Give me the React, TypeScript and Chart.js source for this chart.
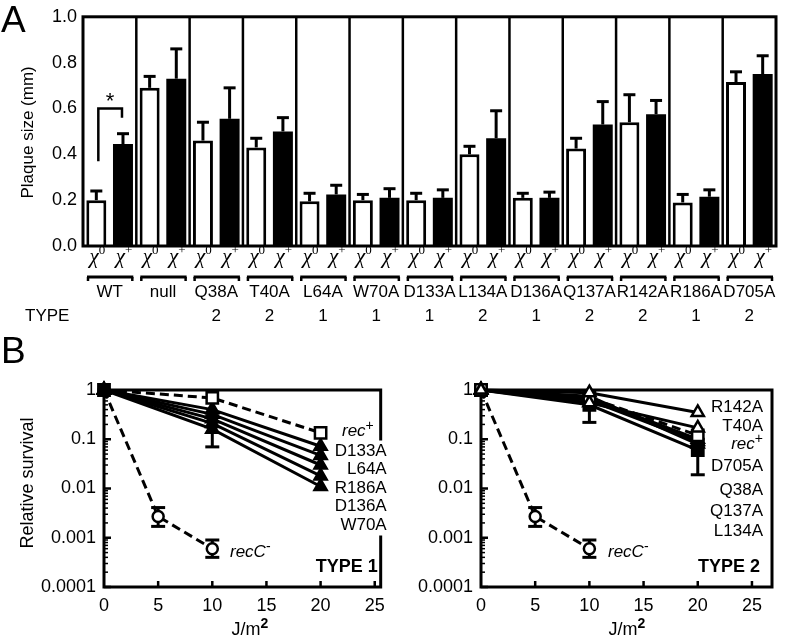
import React, { useEffect, useRef } from 'react';
import { Chart, registerables } from 'chart.js';
Chart.register(...registerables);

const SANS = "'Liberation Sans', Arial, Helvetica, sans-serif";
const SERIF = "'Liberation Serif', 'Times New Roman', serif";
Chart.defaults.font.family = SANS;
Chart.defaults.color = '#000';

// ---------------- Panel A data ----------------
const groups = ['WT', 'null', 'Q38A', 'T40A', 'L64A', 'W70A', 'D133A', 'L134A', 'D136A', 'Q137A', 'R142A', 'R186A', 'D705A'];
const groupTypes = ['', '', '2', '2', '1', '1', '1', '2', '1', '2', '2', '1', '2'];
const barSeries = ['0', '+'];
const chi0 = [0.20, 0.69, 0.46, 0.43, 0.195, 0.20, 0.20, 0.40, 0.21, 0.425, 0.54, 0.19, 0.715];
const chi0Err = [0.04, 0.05, 0.08, 0.04, 0.035, 0.025, 0.03, 0.035, 0.02, 0.045, 0.12, 0.035, 0.045];
const chiPlus = [0.445, 0.73, 0.555, 0.50, 0.225, 0.21, 0.21, 0.47, 0.21, 0.53, 0.575, 0.215, 0.75];
const chiPlusErr = [0.045, 0.13, 0.135, 0.06, 0.04, 0.04, 0.035, 0.12, 0.025, 0.10, 0.06, 0.03, 0.08];
const plaqueTicks = [0, 0.2, 0.4, 0.6, 0.8, 1.0];
const wtBracket = [0.37, 0.60, 0.56]; // left foot, top, right foot

// ---------------- Panel B data ----------------
const doses = [0, 10, 20];
const dosesRecC = [0, 5, 10];
const doseTicks = [0, 5, 10, 15, 20, 25];
const survivalTicks = [1, 0.1, 0.01, 0.001, 0.0001];

const recCMinus = [1, 0.0027, 0.0006];
const recCLow = [null, 0.0017, 0.0004];
const recCHigh = [null, 0.0041, 0.0009];

// Type 1
const recPlus1 = [1, 0.69, 0.135];
const d133a = [1, 0.40, 0.072];
const l64a = [1, 0.32, 0.047];
const r186a = [1, 0.26, 0.030];
const d136a = [1, 0.21, 0.018];
const w70a = [1, 0.16, 0.011];
const w70aLow = [null, 0.07, null];
const w70aHigh = [null, 0.30, null];
const type1Names = ['D133A', 'L64A', 'R186A', 'D136A', 'W70A'];

// Type 2
const r142a = [1, 0.88, 0.35];
const t40a = [1, 0.55, 0.17];
const recPlus2 = [1, 0.70, 0.12];
const q38a = [1, 0.68, 0.10];
const q137a = [1, 0.62, 0.09];
const l134a = [1, 0.75, 0.08];
const d705a = [1, 0.50, 0.06];
const d705aLow = [null, 0.22, 0.019];
const d705aHigh = [null, 0.80, 0.10];
const type2Names = ['R142A', 'T40A', 'rec+', 'D705A', 'Q38A', 'Q137A', 'L134A'];

// ---------------- helpers ----------------
type Part = { t: string; font: string; dy?: number };
function rich(ctx: CanvasRenderingContext2D, parts: Part[], x: number, y: number, align: 'left' | 'center' | 'right', bg = false) {
  ctx.save();
  ctx.textBaseline = 'middle';
  ctx.textAlign = 'left';
  let total = 0;
  const widths = parts.map((p) => {
    ctx.font = p.font;
    const w = ctx.measureText(p.t).width;
    total += w;
    return w;
  });
  let sx = align === 'left' ? x : align === 'center' ? x - total / 2 : x - total;
  if (bg) {
    ctx.fillStyle = '#fff';
    ctx.fillRect(sx - 1, y - 10.5, total + 2, 21);
  }
  ctx.fillStyle = '#000';
  parts.forEach((p, i) => {
    ctx.font = p.font;
    ctx.fillText(p.t, sx, y + (p.dy || 0));
    sx += widths[i];
  });
  ctx.restore();
}

function nameParts(n: string, size = 17): Part[] {
  if (n === 'rec+') return [{ t: 'rec', font: `italic ${size}px ${SANS}` }, { t: '+', font: `${size - 3}px ${SANS}`, dy: -5 }];
  return [{ t: n, font: `${size}px ${SANS}` }];
}

function vLine(ctx: CanvasRenderingContext2D, x: number, y1: number, y2: number) {
  ctx.beginPath();
  ctx.moveTo(x, y1);
  ctx.lineTo(x, y2);
  ctx.stroke();
}
function hLine(ctx: CanvasRenderingContext2D, x1: number, x2: number, y: number) {
  ctx.beginPath();
  ctx.moveTo(x1, y);
  ctx.lineTo(x2, y);
  ctx.stroke();
}

// ---------------- Panel A plugin ----------------
const panelAPlugin = {
  id: 'panelA',
  beforeDatasetsDraw(chart: any) {
    const { ctx, chartArea: ca, scales } = chart;
    const x = scales.x;
    ctx.save();
    ctx.strokeStyle = '#000';
    ctx.lineWidth = 2.5;
    for (let i = 1; i < groups.length; i++) {
      const px = (x.getPixelForValue(i - 1) + x.getPixelForValue(i)) / 2;
      vLine(ctx, px, ca.top, ca.bottom);
    }
    ctx.restore();
  },
  afterDatasetsDraw(chart: any) {
    const { ctx, chartArea: ca, scales } = chart;
    const x = scales.x;
    const y = scales.y;
    ctx.save();
    ctx.strokeStyle = '#000';
    ctx.fillStyle = '#000';
    ctx.lineWidth = 3;
    ctx.strokeRect(ca.left, ca.top, ca.right - ca.left, ca.bottom - ca.top);

    // error bars
    const vals = [chi0, chiPlus];
    const errs = [chi0Err, chiPlusErr];
    [0, 1].forEach((d) => {
      const meta = chart.getDatasetMeta(d);
      meta.data.forEach((bar: any, i: number) => {
        const top = y.getPixelForValue(vals[d][i] + errs[d][i]);
        const bt = y.getPixelForValue(vals[d][i]);
        ctx.lineWidth = 3;
        vLine(ctx, bar.x, bt, top);
        hLine(ctx, bar.x - 6, bar.x + 6, top);
      });
    });

    // significance bracket on WT
    const xl = chart.getDatasetMeta(0).data[0].x + 2;
    const xr = chart.getDatasetMeta(1).data[0].x - 1;
    ctx.lineWidth = 2.5;
    ctx.beginPath();
    ctx.moveTo(xl, y.getPixelForValue(wtBracket[0]));
    ctx.lineTo(xl, y.getPixelForValue(wtBracket[1]));
    ctx.lineTo(xr, y.getPixelForValue(wtBracket[1]));
    ctx.lineTo(xr, y.getPixelForValue(wtBracket[2]));
    ctx.stroke();
    ctx.font = `22px ${SANS}`;
    ctx.textAlign = 'center';
    ctx.textBaseline = 'middle';
    ctx.fillText('*', (xl + xr) / 2, y.getPixelForValue(wtBracket[1]) - 7);

    // chi labels
    [0, 1].forEach((d) => {
      const meta = chart.getDatasetMeta(d);
      meta.data.forEach((bar: any) => {
        rich(ctx, [
          { t: 'χ', font: `italic 21px ${SERIF}` },
          { t: barSeries[d], font: `13px ${SERIF}`, dy: -6 },
        ], bar.x + 1, ca.bottom + 11, 'center');
      });
    });

    // group brackets, names and types
    ctx.lineWidth = 3;
    for (let i = 0; i < groups.length; i++) {
      const cx = x.getPixelForValue(i);
      const half = (x.getPixelForValue(1) - x.getPixelForValue(0)) / 2;
      const l = cx - half + 4;
      const r = cx + half - 3;
      const by = ca.bottom + 31;
      hLine(ctx, l, r, by);
      ctx.lineWidth = 2.5;
      vLine(ctx, l + 1, by, by + 4);
      vLine(ctx, r - 1, by, by + 4);
      ctx.lineWidth = 3;
      rich(ctx, [{ t: groups[i], font: `17px ${SANS}` }], cx, ca.bottom + 46, 'center');
      if (groupTypes[i]) rich(ctx, [{ t: groupTypes[i], font: `17px ${SANS}` }], cx, ca.bottom + 70, 'center');
    }
    rich(ctx, [{ t: 'TYPE', font: `17px ${SANS}` }], 25, ca.bottom + 70, 'left');

    // y title
    ctx.save();
    ctx.translate(28, (ca.top + ca.bottom) / 2 + 1);
    ctx.rotate(-Math.PI / 2);
    ctx.font = `17px ${SANS}`;
    ctx.textAlign = 'center';
    ctx.textBaseline = 'middle';
    ctx.fillText('Plaque size (mm)', 0, 0);
    ctx.restore();

    // panel letter
    ctx.font = `37px ${SANS}`;
    ctx.textAlign = 'left';
    ctx.textBaseline = 'alphabetic';
    ctx.fillText('A', 1, 32);
    ctx.restore();
  },
};

// ---------------- Panel B plugin ----------------
function makeBPlugin(kind: 1 | 2) {
  return {
    id: 'panelB' + kind,
    beforeDatasetsDraw(chart: any) {
      const { ctx, chartArea: ca, scales } = chart;
      const x = scales.x;
      const y = scales.y;
      ctx.save();
      ctx.strokeStyle = '#000';
      ctx.lineWidth = 3;
      ctx.strokeRect(ca.left, ca.top, ca.right - ca.left, ca.bottom - ca.top);
      // inward ticks
      ctx.lineWidth = 2.5;
      doseTicks.forEach((v) => {
        if (v === 0) return;
        const px = x.getPixelForValue(v);
        vLine(ctx, px, ca.bottom, ca.bottom - 6);
      });
      for (let e = -4; e <= 0; e++) {
        const py = y.getPixelForValue(Math.pow(10, e));
        ctx.lineWidth = 2.5;
        hLine(ctx, ca.left, ca.left + 7, py);
        if (e < 0) {
          ctx.lineWidth = 1.5;
          for (let m = 2; m <= 9; m++) {
            const pm = y.getPixelForValue(m * Math.pow(10, e));
            hLine(ctx, ca.left, ca.left + 4, pm);
          }
        }
      }
      // error bars
      ctx.lineWidth = 3;
      chart.data.datasets.forEach((ds: any) => {
        if (!ds.errLow) return;
        ds.data.forEach((p: any, i: number) => {
          const lo = ds.errLow[i];
          const hi = ds.errHigh[i];
          if (lo == null || hi == null) return;
          const px = x.getPixelForValue(p.x);
          const p1 = y.getPixelForValue(lo);
          const p2 = y.getPixelForValue(hi);
          vLine(ctx, px, p1, p2);
          hLine(ctx, px - 7, px + 7, p1);
          hLine(ctx, px - 7, px + 7, p2);
        });
      });
      ctx.restore();
    },
    afterDatasetsDraw(chart: any) {
      const { ctx, chartArea: ca } = chart;
      ctx.save();
      if (kind === 1) {
        rich(ctx, nameParts('rec+'), 342, ca.top + 41, 'left', true);
        type1Names.forEach((n, i) => rich(ctx, nameParts(n), ca.right + 6, ca.top + 61 + 18.5 * i, 'right', true));
        rich(ctx, [{ t: 'recC', font: `italic 17px ${SANS}` }, { t: '-', font: `14px ${SANS}`, dy: -5 }], ca.left + 126, ca.top + 162, 'left');
        rich(ctx, [{ t: 'TYPE 1', font: `bold 18px ${SANS}` }], ca.right - 3, ca.top + 177, 'right');
        // y title
        ctx.save();
        ctx.translate(28, ca.top + 93);
        ctx.rotate(-Math.PI / 2);
        ctx.font = `18px ${SANS}`;
        ctx.textAlign = 'center';
        ctx.textBaseline = 'middle';
        ctx.fillStyle = '#000';
        ctx.fillText('Relative survival', 0, 0);
        ctx.restore();
        ctx.font = `37px ${SANS}`;
        ctx.fillStyle = '#000';
        ctx.textAlign = 'left';
        ctx.textBaseline = 'alphabetic';
        ctx.fillText('B', 1, 33);
      } else {
        const offs = [17, 36, 54, 76, 100, 121, 141];
        type2Names.forEach((n, i) => rich(ctx, nameParts(n), ca.right - 9, ca.top + offs[i], 'right'));
        rich(ctx, [{ t: 'recC', font: `italic 17px ${SANS}` }, { t: '-', font: `14px ${SANS}`, dy: -5 }], ca.left + 127, ca.top + 162, 'left');
        rich(ctx, [{ t: 'TYPE 2', font: `bold 18px ${SANS}` }], ca.right - 12, ca.top + 177, 'right');
      }
      rich(ctx, [{ t: 'J/m', font: `18px ${SANS}` }, { t: '2', font: `bold 14px ${SANS}`, dy: -6 }], ca.left + 146, ca.bottom + 43, 'center');
      ctx.restore();
    },
  };
}

function pts(xs: number[], ys: number[]) {
  return xs.map((d, i) => ({ x: d, y: ys[i] }));
}

function lineDs(label: string, xs: number[], ys: number[], style: any, errLow?: any[], errHigh?: any[]) {
  return {
    label,
    data: pts(xs, ys),
    borderColor: '#000',
    borderWidth: 3,
    pointBorderColor: '#000',
    pointBorderWidth: 2.5,
    clip: false,
    errLow,
    errHigh,
    ...style,
  };
}

const openSquare = { pointStyle: 'rect', pointRadius: 8, pointBackgroundColor: '#fff' };
const filledSquare = { pointStyle: 'rect', pointRadius: 8, pointBackgroundColor: '#000' };
const filledTri = { pointStyle: 'triangle', pointRadius: 7, pointBackgroundColor: '#000' };
const openTri = { pointStyle: 'triangle', pointRadius: 7, pointBackgroundColor: '#fff' };
const openCircle = { pointStyle: 'circle', pointRadius: 5.5, pointBackgroundColor: '#fff' };
const dashed = { borderDash: [9, 5] };

function bOptions(xMax: number, yWidth: number, rightPad: number) {
  return {
    responsive: false,
    animation: false,
    layout: { padding: { top: 60, right: rightPad, bottom: 0, left: 0 } },
    plugins: { legend: { display: false }, tooltip: { enabled: false } },
    scales: {
      x: {
        type: 'linear',
        min: 0,
        max: xMax,
        afterBuildTicks: (s: any) => { s.ticks = doseTicks.map((v) => ({ value: v })); },
        afterFit: (s: any) => { s.height = 56; },
        grid: { display: false, drawTicks: false },
        border: { display: false },
        ticks: { padding: 8, font: { size: 18, family: SANS }, color: '#000', autoSkip: false, maxRotation: 0 },
      },
      y: {
        type: 'logarithmic',
        min: 0.0001,
        max: 1,
        afterBuildTicks: (s: any) => { s.ticks = survivalTicks.map((v) => ({ value: v })); },
        afterFit: (s: any) => { s.width = yWidth; },
        grid: { display: false, drawTicks: false },
        border: { display: false },
        ticks: { padding: 8, font: { size: 18, family: SANS }, color: '#000', autoSkip: false, callback: (v: any) => String(v) },
      },
    },
  };
}

function ChartCanvas({ config, left, top, width, height }: any) {
  const ref = useRef<HTMLCanvasElement>(null);
  useEffect(() => {
    const c = new Chart(ref.current as HTMLCanvasElement, config());
    return () => c.destroy();
  }, []);
  return (
    <canvas ref={ref} width={width} height={height}
      style={{ position: 'absolute', left, top, width, height }} />
  );
}

function configA(): any {
  return {
    type: 'bar',
    data: {
      labels: groups,
      datasets: [
        { label: 'χ0', data: chi0, backgroundColor: '#fff', borderColor: '#000', borderWidth: 3, categoryPercentage: 1, barPercentage: 0.75 },
        { label: 'χ+', data: chiPlus, backgroundColor: '#000', borderColor: '#000', borderWidth: 0, categoryPercentage: 1, barPercentage: 0.75 },
      ],
    },
    options: {
      responsive: false,
      animation: false,
      layout: { padding: { top: 15, right: 10, bottom: 84, left: 0 } },
      plugins: { legend: { display: false }, tooltip: { enabled: false } },
      scales: {
        x: { display: false },
        y: {
          min: 0,
          max: 1,
          afterBuildTicks: (s: any) => { s.ticks = plaqueTicks.map((v) => ({ value: v })); },
          afterFit: (s: any) => { s.width = 83; },
          grid: { display: false, drawTicks: false },
          border: { display: false },
          ticks: { padding: 6, font: { size: 18, family: SANS }, color: '#000', callback: (v: any) => Number(v).toFixed(1) },
        },
      },
    },
    plugins: [panelAPlugin],
  };
}

function configB1(): any {
  return {
    type: 'line',
    data: {
      datasets: [
        lineDs('rec+', doses, recPlus1, { ...openSquare, ...dashed, pointBackgroundColor: ['#000', '#fff', '#fff'] }),
        lineDs('D133A', doses, d133a, filledTri),
        lineDs('L64A', doses, l64a, filledTri),
        lineDs('R186A', doses, r186a, filledTri),
        lineDs('D136A', doses, d136a, filledTri),
        lineDs('W70A', doses, w70a, filledTri, w70aLow, w70aHigh),
        lineDs('recC-', dosesRecC, recCMinus, { ...openCircle, ...dashed }, recCLow, recCHigh),
      ],
    },
    options: bOptions(25.55, 104, 12),
    plugins: [makeBPlugin(1)],
  };
}

function configB2(): any {
  return {
    type: 'line',
    data: {
      datasets: [
        lineDs('R142A', doses, r142a, openTri),
        lineDs('T40A', doses, t40a, openTri),
        lineDs('rec+', doses, recPlus2, { ...openSquare, ...dashed }),
        lineDs('Q38A', doses, q38a, filledTri),
        lineDs('Q137A', doses, q137a, openTri),
        lineDs('L134A', doses, l134a, filledTri),
        lineDs('D705A', doses, d705a, filledSquare, d705aLow, d705aHigh),
        lineDs('recC-', dosesRecC, recCMinus, { ...openCircle, ...dashed }, recCLow, recCHigh),
      ],
    },
    options: bOptions(26.85, 88, 14),
    plugins: [makeBPlugin(2)],
  };
}

export default function App() {
  return (
    <div style={{ position: 'absolute', left: 0, top: 0, width: 786, height: 643, background: '#fff', overflow: 'hidden' }}>
      <ChartCanvas config={configA} left={0} top={0} width={786} height={330} />
      <ChartCanvas config={configB1} left={0} top={330} width={393} height={313} />
      <ChartCanvas config={configB2} left={393} top={330} width={393} height={313} />
    </div>
  );
}
